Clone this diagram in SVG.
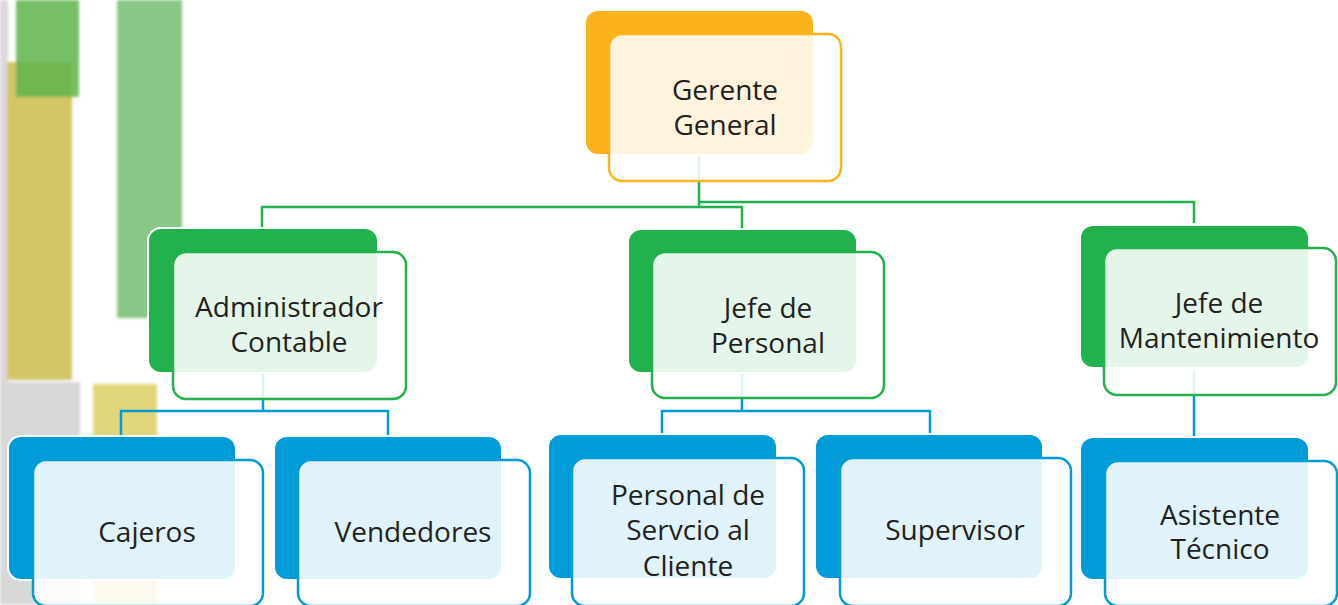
<svg xmlns="http://www.w3.org/2000/svg" width="1338" height="605" viewBox="0 0 1338 605">
<defs>
<style>
.t{font-family:"Open Sans","Liberation Sans",sans-serif;font-size:28px;fill:#231F20;text-anchor:middle}
.bo{fill:#FDB11B;stroke:#fff;stroke-width:2}
.fo{fill:#fff;fill-opacity:0.85;stroke:#FDB11B;stroke-width:2.5}
.bg{fill:#22B14C;stroke:#fff;stroke-width:2}
.fg{fill:#fff;fill-opacity:0.88;stroke:#22B14C;stroke-width:2.5}
.bb{fill:#009CD8;stroke:#fff;stroke-width:2}
.fb{fill:#fff;fill-opacity:0.88;stroke:#009CD8;stroke-width:2.5}
.cg{fill:none;stroke:#22B14C;stroke-width:2.5}
.cb{fill:none;stroke:#009CD8;stroke-width:2.5}
</style>
<filter id="blur" x="-10%" y="-10%" width="120%" height="120%"><feGaussianBlur stdDeviation="1.5"/></filter>
</defs>
<rect width="1338" height="605" fill="#fff"/>
<g id="background" filter="url(#blur)">
<rect x="0" y="0" width="8" height="605" fill="#DCD8DC"/>
<rect x="0" y="382" width="80" height="223" fill="#D8D8D8"/>
<rect x="7" y="62" width="65" height="318" fill="#D4C566"/>
<rect x="16" y="0" width="63" height="97" fill="#5DB44C" fill-opacity="0.85"/>
<rect x="117" y="0" width="65" height="318" fill="#88C785"/>
<rect x="93" y="384" width="64" height="221" fill="#E2D67A"/>
</g>
<g id="connectors">
<path class="cg" d="M699 155 V207 M262 228 V207 H742 V229 M699 202 H1194 V223"/>
<path class="cb" d="M263 373 V411 M121 436 V411 H388 V436"/>
<path class="cb" d="M742 373 V411 M662 434 V411 H930 V434"/>
<path class="cb" d="M1194 368 V437"/>
</g>
<g id="gerente">
<rect class="bo" x="585" y="10" width="229" height="145" rx="13"/>
<rect class="fo" x="609" y="34" width="232" height="147" rx="13"/>
<text class="t" x="725" y="100">Gerente</text>
<text class="t" x="725" y="135">General</text>
</g>
<g id="administrador">
<rect class="bg" x="148" y="228" width="230" height="145" rx="13"/>
<rect class="fg" x="173" y="252" width="233" height="147" rx="13"/>
<text class="t" x="289" y="317">Administrador</text>
<text class="t" x="289" y="352">Contable</text>
</g>
<g id="jefe-personal">
<rect class="bg" x="628" y="229" width="229" height="144" rx="13"/>
<rect class="fg" x="652" y="252" width="232" height="146" rx="13"/>
<text class="t" x="768" y="318">Jefe de</text>
<text class="t" x="768" y="353">Personal</text>
</g>
<g id="jefe-mantenimiento">
<rect class="bg" x="1080" y="225" width="229" height="143" rx="13"/>
<rect class="fg" x="1104" y="248" width="232" height="147" rx="13"/>
<text class="t" x="1219" y="313">Jefe de</text>
<text class="t" x="1219" y="348">Mantenimiento</text>
</g>
<g id="cajeros">
<rect class="bb" x="8" y="436" width="228" height="144" rx="13"/>
<rect class="fb" x="33" y="460" width="230" height="146" rx="13"/>
<text class="t" x="147" y="542">Cajeros</text>
</g>
<g id="vendedores">
<rect class="bb" x="274" y="436" width="228" height="144" rx="13"/>
<rect class="fb" x="298" y="460" width="232" height="146" rx="13"/>
<text class="t" x="413" y="542">Vendedores</text>
</g>
<g id="personal-servicio">
<rect class="bb" x="548" y="434" width="229" height="145" rx="13"/>
<rect class="fb" x="572" y="458" width="232" height="148" rx="13"/>
<text class="t" x="688" y="505">Personal de</text>
<text class="t" x="688" y="540">Servcio al</text>
<text class="t" x="688" y="576">Cliente</text>
</g>
<g id="supervisor">
<rect class="bb" x="815" y="434" width="228" height="145" rx="13"/>
<rect class="fb" x="840" y="458" width="231" height="148" rx="13"/>
<text class="t" x="955" y="540">Supervisor</text>
</g>
<g id="asistente">
<rect class="bb" x="1080" y="437" width="229" height="143" rx="13"/>
<rect class="fb" x="1105" y="461" width="232" height="145" rx="13"/>
<text class="t" x="1220" y="525">Asistente</text>
<text class="t" x="1220" y="559">Técnico</text>
</g>
</svg>
